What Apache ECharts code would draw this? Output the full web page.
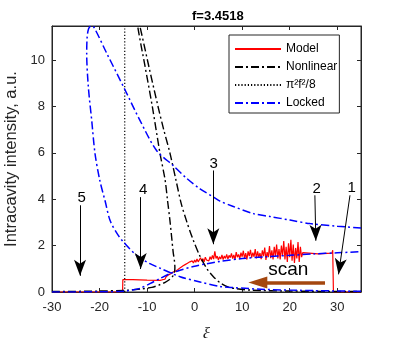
<!DOCTYPE html>
<html>
<head>
<meta charset="utf-8">
<script src="https://cdn.jsdelivr.net/npm/echarts@6/dist/echarts.min.js"></script>
<style>
  html, body { margin: 0; padding: 0; background: #fff; }
  #chart { width: 399px; height: 338px; }
</style>
</head>
<body>
<div id="chart"></div>
<script>
// values: [xi, intensity]
const modelPoints = [
  [-30, 0], [-15.15, 0], [-15.1, 0.53], [-13, 0.53], [-10, 0.51], [-7.25, 0.5],
  [-7, 0.5], [-6.75, 0.53], [-6.5, 0.58], [-6.25, 0.55], [-6, 0.66], [-5.75, 0.62],
  [-5.5, 0.74], [-5.25, 0.7], [-5, 0.79], [-4.75, 0.76], [-4.5, 0.86], [-4.25, 0.82],
  [-4, 0.9], [-3.75, 0.88], [-3.5, 0.97], [-3.25, 0.93], [-3, 1.05], [-2.75, 1.0],
  [-2.5, 1.12], [-2.25, 1.06], [-2, 1.18], [-1.75, 1.12], [-1.5, 1.24], [-1.25, 1.18],
  [-1, 1.3], [-0.75, 1.22], [-0.5, 1.34], [-0.25, 1.25], [0, 1.38], [0.25, 1.28],
  [0.5, 1.42], [0.75, 1.3], [1, 1.36], [1.25, 1.48], [1.5, 1.33], [1.75, 1.44],
  [2, 1.3], [2.25, 1.5], [2.5, 1.38], [2.75, 1.46], [3, 1.34], [3.25, 1.52],
  [3.5, 1.4], [3.75, 1.58], [4, 1.42], [4.25, 1.75], [4.5, 1.45], [4.75, 1.55],
  [5, 1.38], [5.25, 1.52], [5.5, 1.42], [5.75, 1.6], [6, 1.4], [6.25, 1.55],
  [6.5, 1.45], [6.75, 1.62], [7, 1.42], [7.25, 1.58], [7.5, 1.48], [7.75, 1.66],
  [8, 1.44], [8.25, 1.6], [8.5, 1.4], [8.75, 1.72], [9, 1.5], [9.25, 1.62],
  [9.5, 1.44], [9.75, 1.7], [10, 1.52], [10.25, 1.78], [10.5, 1.45], [10.75, 1.68],
  [11, 1.4], [11.25, 1.75], [11.5, 1.55], [11.75, 1.82], [12, 1.48], [12.25, 1.7],
  [12.5, 1.52], [12.75, 1.85], [13, 1.45], [13.25, 1.75], [13.5, 1.5], [13.75, 1.68],
  [14, 1.42], [14.25, 1.8], [14.5, 1.55], [14.75, 1.92], [15, 1.38], [15.25, 1.72],
  [15.5, 1.5], [15.75, 1.98], [16, 1.46], [16.25, 1.8], [16.5, 1.4], [16.75, 1.95],
  [17, 1.55], [17.25, 2.05], [17.5, 1.45], [17.75, 1.85], [18, 1.4], [18.25, 2.0],
  [18.5, 1.55], [18.75, 2.2], [19, 1.4], [19.25, 1.95], [19.5, 1.3], [19.75, 2.1],
  [20, 1.5], [20.25, 2.25], [20.5, 1.35], [20.75, 2.05], [21, 1.25], [21.25, 1.9],
  [21.5, 1.45], [21.75, 2.15], [22, 1.3], [22.25, 1.95], [22.5, 1.5], [22.75, 1.7],
  [23, 1.62], [26, 1.64], [28.9, 1.68], [29.05, 1.8], [29.15, 1.75], [29.2, 0], [35, 0]
];

const nonlinearPoints = [
  [-30, 0.02], [-20, 0.04], [-14, 0.08], [-11, 0.14], [-9, 0.2], [-7.5, 0.3],
  [-6.2, 0.42], [-5.2, 0.55], [-4.6, 0.68], [-4.25, 0.85], [-4.15, 1.05], [-4.25, 1.35],
  [-4.5, 1.7], [-4.8, 2.3], [-5.2, 3.1], [-5.7, 3.95], [-6.2, 4.82], [-7.3, 6.0],
  [-8.9, 8.0], [-10.4, 9.7], [-11.97, 11.45], [-12.1, 11.9], [-11.5, 11.45],
  [-9.6, 9.7], [-7.7, 8.0], [-6.5, 7.0], [-5.2, 6.0], [-3.92, 4.82], [-2.8, 3.8],
  [-1.6, 3.0], [-0.4, 2.3], [1.0, 1.6], [2.6, 1.0], [4.0, 0.65], [5.5, 0.38],
  [7.0, 0.22], [8.8, 0.14], [12, 0.08], [20, 0.04], [35, 0.02]
];

const thresholdPoints = [[-14.7, 0], [-14.7, 11.47]];

// fold branch: lower-left part, turning point near the top, upper part
const lockedFold = [
  [35, 0.03], [25, 0.06], [15, 0.11], [8.1, 0.19], [5.34, 0.24], [1.13, 0.43],
  [-3.07, 0.66], [-7.3, 1.03], [-9.4, 1.22], [-12.2, 1.58], [-15, 2.16], [-16.4, 2.55],
  [-17.8, 3.09], [-18.8, 3.9], [-19.95, 4.82], [-20.95, 5.97], [-21.65, 7.41],
  [-22.36, 8.85], [-22.7, 10.3], [-22.6, 11.0], [-22.3, 11.35], [-21.8, 11.47],
  [-21.2, 11.42], [-18.5, 10.3], [-14.6, 8.7], [-11.5, 7.4], [-8.0, 6.1], [-4.5, 5.45],
  [-1.67, 4.9], [1.13, 4.45], [3.93, 4.1], [5.34, 3.92], [8, 3.7], [12.35, 3.38],
  [16, 3.25], [20.06, 3.1], [24.3, 2.95], [30, 2.84], [35, 2.76]
];
const lockedRising = [
  [-30, 0], [-20, 0.01], [-15, 0.03], [-13, 0.09], [-11.5, 0.16], [-9.4, 0.36],
  [-7.3, 0.58], [-5.2, 0.79], [-3.07, 0.94], [-0.27, 1.1], [2.54, 1.22], [5.34, 1.32],
  [10, 1.44], [15, 1.52], [20, 1.58], [25, 1.64], [30, 1.69], [35, 1.74]
];

const legendNames = ['Model', 'Nonlinear', 'π²f²/8', 'Locked'];
const xTicks = [-30, -20, -10, 0, 10, 20, 30];
const yTicks = [0, 2, 4, 6, 8, 10];

// numbered arrows: label position, shaft start, shaft end (head centre)
const arrowNames = ['1', '2', '3', '4', '5'];
const arrowLabelPos = [[33.04, 4.51], [25.67, 4.46], [4.0, 5.53], [-10.82, 4.41], [-23.75, 4.08]];
const arrowStart = [[32.68, 4.17], [25.3, 4.17], [3.93, 5.24], [-11.34, 4.09], [-24.11, 3.74]];
const arrowEnd = [[30.27, 0.76], [25.5, 2.21], [3.93, 2.06], [-11.34, 0.99], [-24.11, 0.7]];
const scanStart = [27.43, 0.405];
const scanEnd = [13.29, 0.405];
const scanLabelPos = [19.7, 0.95];

const axisColor = '#262626';
const font = 'Liberation Sans';

const chart = echarts.init(document.getElementById('chart'));

const dashDot = [8, 3, 2, 3];
const gap = ['-', '-'];

const boxAxis = {
  axisLine: { show: true, onZero: false, lineStyle: { color: axisColor, width: 1 } },
  axisTick: { show: true, inside: true, length: 4, lineStyle: { color: axisColor } },
  splitLine: { show: false }
};

chart.setOption({
  animation: false,
  textStyle: { fontFamily: font },
  title: {
    text: 'f=3.4518',
    left: 187, top: 5,
    textStyle: { fontSize: 13, fontWeight: 'bold', color: '#000', fontFamily: font }
  },
  grid: {
    left: 52, top: 26, width: 309, height: 266,
    outerBoundsMode: 'none', containLabel: false,
    show: true, borderColor: axisColor, borderWidth: 1, backgroundColor: 'transparent'
  },
  legend: {
    data: legendNames,
    orient: 'vertical',
    left: 229, top: 35,
    itemWidth: 46, itemHeight: 14, itemGap: 6,
    padding: [8, 2, 4, 5],
    borderColor: axisColor, borderWidth: 1, backgroundColor: '#fff',
    itemStyle: { opacity: 0 },
    textStyle: { fontSize: 12, color: '#000', fontFamily: font }
  },
  xAxis: [
    Object.assign({
      type: 'value', min: -30, max: 35, interval: 10,
      name: 'ξ', nameLocation: 'middle', nameGap: 34,
      nameTextStyle: { fontFamily: 'Liberation Serif', fontStyle: 'italic', fontSize: 17, color: axisColor },
      axisLabel: {
        fontSize: 13, color: axisColor, margin: 9,
        formatter: v => (xTicks.includes(v) ? String(v) : '')
      }
    }, boxAxis),
    Object.assign({
      type: 'value', min: -30, max: 35, interval: 10, position: 'top',
      axisLabel: { show: false }
    }, boxAxis)
  ],
  yAxis: [
    Object.assign({
      type: 'value', min: 0, max: 11.47, interval: 2,
      name: 'Intracavity intensity, a.u.', nameLocation: 'middle', nameGap: 30,
      nameTextStyle: { fontSize: 16.5, color: axisColor, fontFamily: font },
      axisLabel: {
        fontSize: 13, color: axisColor, margin: 7,
        formatter: v => (yTicks.includes(v) ? String(v) : '')
      }
    }, boxAxis),
    Object.assign({
      type: 'value', min: 0, max: 11.47, interval: 2, position: 'right',
      axisLabel: { show: false }
    }, boxAxis)
  ],
  series: [
    {
      name: 'Model', type: 'line', data: modelPoints,
      showSymbol: false, symbol: 'none',
      lineStyle: { color: '#ff0000', width: 1.2 },
      itemStyle: { color: '#ff0000' }
    },
    {
      name: 'Nonlinear', type: 'line', data: nonlinearPoints,
      showSymbol: false, symbol: 'none', smooth: 0.3,
      lineStyle: { color: '#000', width: 1.4, type: dashDot },
      itemStyle: { color: '#000' }
    },
    {
      name: 'π²f²/8', type: 'line', data: thresholdPoints,
      showSymbol: false, symbol: 'none',
      lineStyle: { color: '#000', width: 1.2, type: [1.2, 2] },
      itemStyle: { color: '#000' }
    },
    {
      name: 'Locked', type: 'line', data: lockedFold.concat([gap], lockedRising),
      showSymbol: false, symbol: 'none', smooth: 0.3, connectNulls: false,
      lineStyle: { color: '#0000ff', width: 1.5, type: dashDot },
      itemStyle: { color: '#0000ff' }
    },
    {
      // empty series so the top/right box axes are bound and drawn
      name: 'box', type: 'line', data: [], xAxisIndex: 1, yAxisIndex: 1
    },
    {
      name: 'annotations', type: 'line', data: [],
      markLine: {
        silent: true, animation: false,
        symbol: ['none', 'arrow'],
        symbolSize: [9, 16],
        lineStyle: { color: '#000', width: 1, type: 'solid' },
        label: { show: false },
        emphasis: { disabled: true },
        data: arrowStart.map((s, i) => [{ coord: s }, { coord: arrowEnd[i] }]).concat([[
          { coord: scanStart, lineStyle: { color: '#a4470f', width: 3.5, type: 'solid' } },
          { coord: scanEnd, symbol: 'triangle', symbolSize: [12, 19] }
        ]])
      },
      markPoint: {
        silent: true, animation: false,
        symbol: 'circle', symbolSize: 1,
        itemStyle: { color: 'rgba(0,0,0,0)' },
        label: { show: true, position: 'inside', color: '#000', fontSize: 15, formatter: '{b}', fontFamily: font },
        data: arrowNames.map((n, i) => ({ name: n, coord: arrowLabelPos[i] })).concat([
          { name: 'scan', coord: scanLabelPos, label: { fontSize: 19 } }
        ])
      }
    }
  ]
});
</script>
</body>
</html>
